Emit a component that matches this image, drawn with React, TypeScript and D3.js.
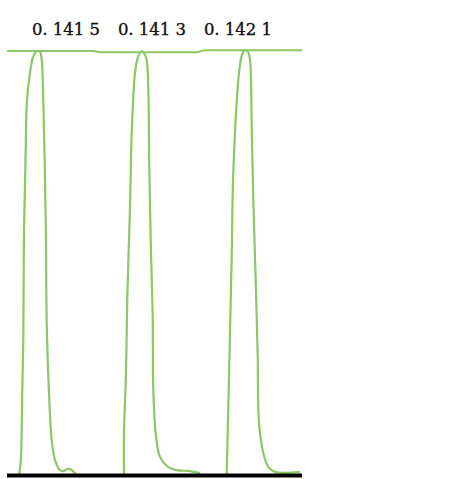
import React from "react";
import * as d3 from "d3";

type Pt = [number, number];

// x: time units (0..295), y: normalized intensity (0..1)
const peak1: Pt[] = [
  [12.3, 0], [14, 0.04], [15.3, 0.199], [16.3, 0.317], [17, 0.577], [18.7, 0.766],
  [20, 0.884], [23, 0.948], [26, 0.986], [29, 0.998], [31, 1.0], [33, 0.998],
  [34.7, 0.979], [36.3, 0.884], [37.7, 0.735], [39, 0.553], [39.7, 0.357],
  [42.3, 0.174], [44.7, 0.08], [48, 0.033], [53, 0.009], [57, 0.007], [61, 0.012],
  [65, 0.009], [68, 0.002], [69, 0],
];
const peak2: Pt[] = [
  [117, 0], [117, 0.097], [119, 0.239], [120.3, 0.418], [123, 0.631], [124.7, 0.806],
  [128, 0.948], [131, 0.986], [134.7, 1.0], [137.5, 0.993], [139.7, 0.979],
  [142.3, 0.726], [143.7, 0.553], [145.7, 0.371], [146.3, 0.199], [149, 0.09],
  [153, 0.04], [161, 0.017], [169.7, 0.009], [183, 0.007], [193, 0.002],
];
const peak3: Pt[] = [
  [219.7, 0], [221.3, 0.158], [223, 0.333], [224.7, 0.513], [226.3, 0.712],
  [232, 0.948], [235, 0.991], [238, 1.002], [241, 0.998], [243, 0.979],
  [244.7, 0.82], [246.3, 0.648], [248.7, 0.459], [250.7, 0.277], [252, 0.121],
  [256.3, 0.05], [261.3, 0.017], [268, 0.005], [293, 0.005],
];
const topLine: Pt[] = [
  [0, 1.0], [86, 1.0], [94, 0.997], [190, 0.997], [198, 1.002], [295, 1.002],
];
const peakLabels = ["0. 141 5", "0. 141 3", "0. 142 1"];
const labelX = [59, 145, 231];

const W = 455;
const H = 479;

export default function App() {
  const x = d3.scaleLinear().domain([0, 295]).range([7, 302]);
  const y = d3.scaleLinear().domain([0, 1]).range([474, 51]);
  const line = d3
    .line<Pt>()
    .x((d) => x(d[0]))
    .y((d) => y(d[1]))
    .curve(d3.curveCatmullRom.alpha(0.5));
  const straight = d3
    .line<Pt>()
    .x((d) => x(d[0]))
    .y((d) => y(d[1]));
  const green = "#8cc864";
  return (
    <div style={{ position: "absolute", left: 0, top: 0 }}>
      <svg width={W} height={H} style={{ display: "block", background: "#ffffff" }}>
        <path d={straight(topLine) || ""} fill="none" stroke={green} strokeWidth={2} />
        {[peak1, peak2, peak3].map((p, i) => (
          <path key={i} d={line(p) || ""} fill="none" stroke={green} strokeWidth={2.2} strokeLinejoin="round" />
        ))}
        <line x1={x(0)} x2={x(295)} y1={y(0) + 1.5} y2={y(0) + 1.5} stroke="#000" strokeWidth={4} />
        {peakLabels.map((t, i) => (
          <text
            key={i}
            x={x(labelX[i])}
            y={35}
            textAnchor="middle"
            fontFamily="'DejaVu Serif', serif"
            fontSize={16.5}
            fill="#111"
            stroke="#111"
            strokeWidth={0.35}
          >
            {t}
          </text>
        ))}
      </svg>
    </div>
  );
}
